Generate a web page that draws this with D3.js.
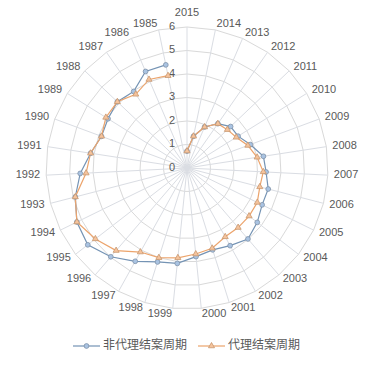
<!DOCTYPE html>
<html>
<head>
<meta charset="utf-8">
<script src="https://cdn.jsdelivr.net/npm/d3@7"></script>
<style>
  body { margin: 0; background: #fff; }
  text { font-family: "Liberation Sans", "Noto Sans CJK SC", sans-serif; fill: #595959; }
</style>
</head>
<body>
<div id="chart"></div>
<script>
const width = 375;
const height = 367;

// categories clockwise from the top
const years = ["2015", "2014", "2013", "2012", "2011", "2010", "2009", "2008", "2007", "2006",
    "2005", "2004", "2003", "2002", "2001", "2000", "1999", "1998", "1997", "1996",
    "1995", "1994", "1993", "1992", "1991", "1990", "1989", "1988", "1987", "1986", "1985"];

const nonAgent = [0.72, 1.38, 1.9, 2.3, 2.56, 2.56, 2.87, 3.29, 3.37, 3.57,
    3.56, 3.78, 3.98, 3.78, 3.65, 3.79, 4.08, 4.19, 4.54, 4.98,
    5.34, 5.22, 4.91, 4.55, 4.15, 3.88, 3.96, 4.09, 3.97, 4.47, 4.48];

const agent = [0.72, 1.38, 1.9, 2.3, 2.37, 2.47, 2.76, 3.02, 3.25, 3.2,
    3.33, 3.34, 3.34, 3.35, 3.58, 3.68, 3.84, 4.0, 4.09, 4.63,
    4.93, 5.22, 4.91, 4.3, 4.15, 3.88, 4.07, 4.09, 3.82, 4.1, 4.01];

const radialTicks = [0, 1, 2, 3, 4, 5, 6];
const seriesNames = ["非代理结案周期", "代理结案周期"];

const cx = 187, cy = 168;

const svg = d3.select("#chart")
    .append("svg")
    .attr("width", width)
    .attr("height", height);

const r = d3.scaleLinear().domain([0, 6]).range([0, 141]);
const angle = d3.scaleBand().domain(years).range([0, 2 * Math.PI]);

const g = svg.append("g").attr("transform", `translate(${cx},${cy})`);

// grid rings (polygons)
const ringLine = d3.lineRadial()
    .angle(d => angle(d))
    .curve(d3.curveLinearClosed);

radialTicks.slice(1).forEach(t => {
    g.append("path")
        .attr("d", ringLine.radius(r(t))(years))
        .attr("fill", "none")
        .attr("stroke", "#d9d9d9")
        .attr("stroke-width", 1);
});

// spokes
g.selectAll("line.spoke")
    .data(years)
    .enter().append("line")
    .attr("class", "spoke")
    .attr("x1", 0).attr("y1", 0)
    .attr("x2", d => r(6) * Math.sin(angle(d)))
    .attr("y2", d => -r(6) * Math.cos(angle(d)))
    .attr("stroke", "#dadde3")
    .attr("stroke-width", 1);

// radial tick labels
g.selectAll("text.tick")
    .data(radialTicks)
    .enter().append("text")
    .attr("class", "tick")
    .attr("x", -12)
    .attr("y", d => -r(d))
    .attr("text-anchor", "end")
    .attr("dominant-baseline", "middle")
    .style("font-size", "11px")
    .text(d => d);

// category labels
const labelR = 147;
g.selectAll("text.cat")
    .data(years)
    .enter().append("text")
    .attr("class", "cat")
    .each(function(d) {
        const a = angle(d);
        const s = Math.sin(a), c = Math.cos(a);
        const el = d3.select(this);
        let x = labelR * s, y = -labelR * c;
        if (Math.abs(s) < 0.05) {
            el.attr("text-anchor", "middle");
            y -= 8 * c;
        } else {
            el.attr("text-anchor", s > 0 ? "start" : "end");
        }
        el.attr("x", x).attr("y", y);
    })
    .attr("dominant-baseline", "middle")
    .style("font-size", "11px")
    .text(d => d);

const line = d3.lineRadial()
    .angle((d, i) => angle(years[i]))
    .radius(d => r(d));

const blue = { line: "#7493b4", fill: "#a9c3e2", stroke: "#7f92a8" };
const orange = { line: "#eca46c", fill: "#f5c39c", stroke: "#c8976e" };

function pos(d, i) {
    const a = angle(years[i]);
    return [r(d) * Math.sin(a), -r(d) * Math.cos(a)];
}

// non-agent series
g.append("path")
    .attr("d", line(nonAgent))
    .attr("fill", "none")
    .attr("stroke", blue.line)
    .attr("stroke-width", 1.2);

// agent series
g.append("path")
    .attr("d", line(agent))
    .attr("fill", "none")
    .attr("stroke", orange.line)
    .attr("stroke-width", 1.2);

g.selectAll("circle.m")
    .data(nonAgent)
    .enter().append("circle")
    .attr("class", "m")
    .attr("cx", (d, i) => pos(d, i)[0])
    .attr("cy", (d, i) => pos(d, i)[1])
    .attr("r", 2.4)
    .attr("fill", blue.fill)
    .attr("stroke", blue.stroke)
    .attr("stroke-width", 0.8);

const tri = d3.symbol().type(d3.symbolTriangle).size(16);
g.selectAll("path.t")
    .data(agent)
    .enter().append("path")
    .attr("class", "t")
    .attr("d", tri)
    .attr("transform", (d, i) => `translate(${pos(d, i)[0]},${pos(d, i)[1]})`)
    .attr("fill", orange.fill)
    .attr("stroke", orange.stroke)
    .attr("stroke-width", 0.8);

// legend
const legend = svg.append("g").attr("transform", "translate(0,346)");
const items = [
    { x: 73, c: blue, name: seriesNames[0], shape: "circle" },
    { x: 198, c: orange, name: seriesNames[1], shape: "tri" }
];
items.forEach(it => {
    legend.append("line")
        .attr("x1", it.x).attr("x2", it.x + 27)
        .attr("y1", 0).attr("y2", 0)
        .attr("stroke", it.c.line)
        .attr("stroke-width", 1.2);
    if (it.shape === "circle") {
        legend.append("circle")
            .attr("cx", it.x + 13.5).attr("cy", 0).attr("r", 2.4)
            .attr("fill", it.c.fill).attr("stroke", it.c.stroke).attr("stroke-width", 0.8);
    } else {
        legend.append("path")
            .attr("d", tri)
            .attr("transform", `translate(${it.x + 13.5},0)`)
            .attr("fill", it.c.fill).attr("stroke", it.c.stroke).attr("stroke-width", 0.8);
    }
    legend.append("text")
        .attr("x", it.x + 30)
        .attr("y", 0)
        .attr("dominant-baseline", "middle")
        .style("font-family", "'Noto Sans CJK SC', sans-serif")
        .style("font-size", "12px")
        .text(it.name);
});
</script>
</body>
</html>
